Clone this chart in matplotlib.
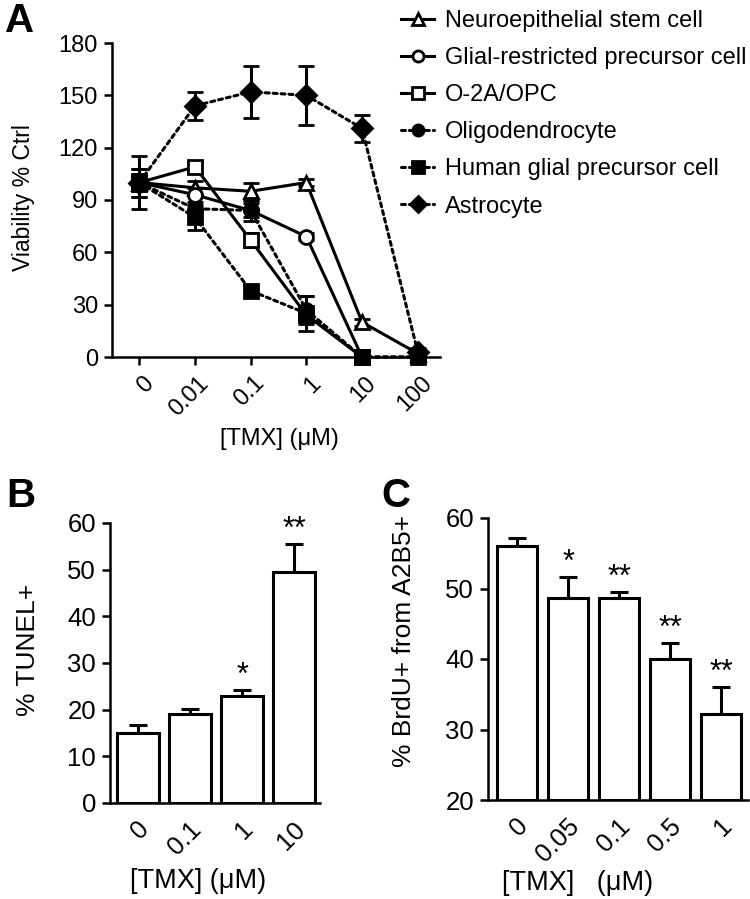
import matplotlib
matplotlib.use("Agg")
import matplotlib.pyplot as plt
import matplotlib.transforms as mtransforms
from matplotlib.lines import Line2D
import numpy as np

plt.rcParams['font.family'] = ['Liberation Sans', 'DejaVu Sans']

# ---------------- Panel A data ----------------
a_ticklabels = ["0", "0.01", "0.1", "1", "10", "100"]
a_ylabel = "Viability % Ctrl"

neuro_vals = [100, 97, 95, 100, 20, 2]
neuro_err = [5, 4, 5, 2, 2, 1]
glial_vals = [100, 93, 84, 69, 0]
glial_err = [5, 4, 4, 2, 1]
opc_vals = [100, 109, 67, 24, 0]
opc_err = [5, 3, 4, 3, 1]
oligo_vals = [100, 85, 84, 27, 0, 0]
oligo_err = [8, 8, 6, 8, 1, 1]
hgp_vals = [100, 80, 38, 25, 0, 0]
hgp_err = [15, 7, 3, 10, 1, 1]
astro_vals = [100, 144, 152, 150, 131, 3]
astro_err = [8, 8, 15, 17, 8, 2]

series_names = ["Neuroepithelial stem cell", "Glial-restricted precursor cell",
                "O-2A/OPC", "Oligodendrocyte", "Human glial precursor cell", "Astrocyte"]

# ---------------- Panel B data ----------------
b_labels = ["0", "0.1", "1", "10"]
b_vals = [15, 19, 23, 49.5]
b_err = [1.8, 1.1, 1.2, 6.0]
b_stars = ["", "", "*", "**"]

# ---------------- Panel C data ----------------
c_labels = ["0", "0.05", "0.1", "0.5", "1"]
c_vals = [56, 48.6, 48.6, 40, 32.2]
c_err = [1.1, 3.0, 0.9, 2.3, 3.8]
c_stars = ["", "*", "**", "**", "**"]

W, H = 750, 899
fig = plt.figure(figsize=(W / 100, H / 100), dpi=100)

def frac(l, r, b, t):
    return [l / W, 1 - b / H, (r - l) / W, (b - t) / H]

LW = 1.8

def style_axes(ax, tickfs):
    for s in ["top", "right"]:
        ax.spines[s].set_visible(False)
    for s in ["left", "bottom"]:
        ax.spines[s].set_linewidth(LW)
    ax.tick_params(width=LW, length=6, labelsize=tickfs, direction='out', pad=4)

def shift_xticklabels(ax, dx_px):
    off = mtransforms.ScaledTranslation(dx_px / 100, 0, fig.dpi_scale_trans)
    for lab in ax.get_xticklabels():
        lab.set_transform(lab.get_transform() + off)

# ---------------- Panel A ----------------
axA = fig.add_axes(frac(112, 440, 357, 43))
style_axes(axA, 17)
dotted = (0, (1.3, 1.3))
common = dict(color='black', lw=2.2, capsize=6, capthick=2.2, elinewidth=2.2,
              markersize=10, markeredgewidth=2.0, clip_on=False)
specs = [
    (neuro_vals, neuro_err, '^', 'white', '-'),
    (glial_vals, glial_err, 'o', 'white', '-'),
    (opc_vals, opc_err, 's', 'white', '-'),
    (oligo_vals, oligo_err, 'o', 'black', dotted),
    (hgp_vals, hgp_err, 's', 'black', dotted),
    (astro_vals, astro_err, 'D', 'black', dotted),
]
leg_handles = []
for (vals, err, mk, fc, ls), name in zip(specs, series_names):
    x = np.arange(len(vals))
    h = axA.errorbar(x, vals, yerr=err, marker=mk, markerfacecolor=fc,
                     markeredgecolor='black', linestyle=ls, label=name, **common)
    h[0].set_dash_capstyle('round')
    leg_handles.append(Line2D([], [], color='black', lw=2.2, linestyle=ls, marker=mk,
                              markerfacecolor=fc, markeredgecolor='black',
                              markersize=8, markeredgewidth=2.0,
                              dash_capstyle='round'))

axA.set_ylim(0, 180)
axA.set_yticks(np.arange(0, 181, 30))
axA.set_xlim(-0.49, 5.4)
axA.set_xticks(np.arange(len(a_ticklabels)))
axA.set_xticklabels(a_ticklabels, rotation=45, ha='right', rotation_mode='anchor')
axA.tick_params(axis='x', pad=5)
shift_xticklabels(axA, 3)
axA.set_ylabel(a_ylabel, fontsize=16.5)
axA.yaxis.set_label_coords(-0.236, 0.508)
axA.set_xlabel("[TMX] (μM)", fontsize=17)
axA.xaxis.set_label_coords(0.51, -0.226)

fig.legend(handles=leg_handles, labels=series_names, loc='upper left',
           bbox_to_anchor=(401 / W, 1 - 10 / H), frameon=False,
           fontsize=17, handlelength=1.4, handletextpad=0.45,
           labelspacing=0.64, borderaxespad=0, borderpad=0)

fig.text(5 / W, 1 - 32 / H, "A", fontsize=29, fontweight='bold', va='baseline')

# ---------------- Panel B ----------------
axB = fig.add_axes(frac(110, 320, 803, 523))
style_axes(axB, 18.5)
xb = np.arange(len(b_labels))
axB.bar(xb, b_vals, width=0.8, color='white', edgecolor='black', linewidth=2.2, zorder=2)
axB.errorbar(xb, b_vals, yerr=[np.zeros(len(b_err)), b_err], fmt='none', ecolor='black',
             elinewidth=2.2, capsize=6.5, capthick=2.2, zorder=1)
for xi, v, e, s in zip(xb, b_vals, b_err, b_stars):
    if s:
        axB.text(xi, v + e - 0.2, s, ha='center', va='bottom', fontsize=22)
axB.set_ylim(0, 60)
axB.set_yticks(np.arange(0, 61, 10))
axB.set_xlim(-0.54, 3.5)
axB.set_xticks(xb)
axB.set_xticklabels(b_labels, rotation=45, ha='right', rotation_mode='anchor')
axB.tick_params(axis='x', length=0, pad=10)
shift_xticklabels(axB, -1)
axB.set_ylabel("% TUNEL+", fontsize=19)
axB.yaxis.set_label_coords(-0.335, 0.546)
axB.set_xlabel("[TMX] (μM)", fontsize=19.5)
axB.xaxis.set_label_coords(0.42, -0.232)
fig.text(6 / W, 1 - 507 / H, "B", fontsize=29, fontweight='bold', va='baseline')

# ---------------- Panel C ----------------
axC = fig.add_axes(frac(488, 748, 800, 518))
style_axes(axC, 18.5)
xc = np.arange(len(c_labels))
axC.bar(xc, [v - 20 for v in c_vals], bottom=20, width=0.8, color='white',
        edgecolor='black', linewidth=2.2, zorder=2)
axC.errorbar(xc, c_vals, yerr=[np.zeros(len(c_err)), c_err], fmt='none', ecolor='black',
             elinewidth=2.2, capsize=6.5, capthick=2.2, zorder=1)
for xi, v, e, s in zip(xc, c_vals, c_err, c_stars):
    if s:
        axC.text(xi, v + e - 0.15, s, ha='center', va='bottom', fontsize=22)
axC.set_ylim(20, 60)
axC.set_yticks(np.arange(20, 61, 10))
axC.set_xlim(-0.57, 4.53)
axC.set_xticks(xc)
axC.set_xticklabels(c_labels, rotation=45, ha='right', rotation_mode='anchor')
axC.tick_params(axis='x', length=0, pad=10)
shift_xticklabels(axC, -1)
axC.set_ylabel("% BrdU+ from A2B5+", fontsize=19)
axC.yaxis.set_label_coords(-0.275, 0.564)
axC.set_xlabel("[TMX]   (μM)", fontsize=19.5)
axC.xaxis.set_label_coords(0.344, -0.248)
fig.text(381 / W, 1 - 507 / H, "C", fontsize=29, fontweight='bold', va='baseline')

fig.savefig("out.png", dpi=100)
